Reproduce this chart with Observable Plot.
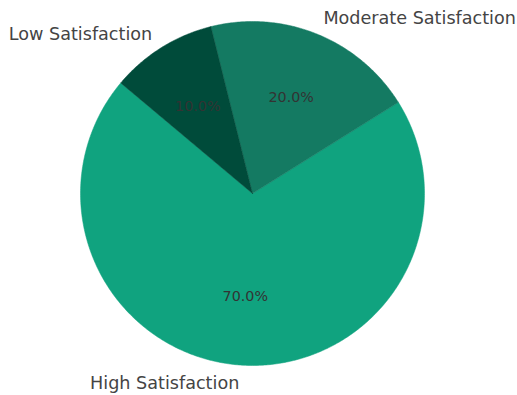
<!DOCTYPE html>
<html>
<head>
<meta charset="utf-8">
<script src="https://cdn.jsdelivr.net/npm/d3@7"></script>
<script src="https://cdn.jsdelivr.net/npm/@observablehq/plot@0.6"></script>
<style>
  html, body { margin: 0; padding: 0; background: #fff; }
  #chart svg { display: block; }
</style>
</head>
<body>
<div id="chart"></div>
<script>
// Data
const categories = ["High Satisfaction", "Moderate Satisfaction", "Low Satisfaction"];
const shares = [70, 20, 10];
const colors = ["#10a37f", "#147a62", "#004b3a"];
const pctLabels = ["70.0%", "20.0%", "10.0%"];

const startDeg = 140; // matplotlib-style start angle, counter-clockwise
const total = d3.sum(shares);

const slicePts = [];
const pctPts = [];
const labelPts = [];
let a0 = startDeg * Math.PI / 180;
categories.forEach((c, i) => {
  const span = shares[i] / total * 2 * Math.PI;
  const a1 = a0 + span;
  slicePts.push({cat: c, x: 0, y: 0});
  const n = Math.max(2, Math.ceil(span / 0.01));
  for (let k = 0; k <= n; k++) {
    const a = a0 + span * k / n;
    slicePts.push({cat: c, x: Math.cos(a), y: Math.sin(a)});
  }
  slicePts.push({cat: c, x: 0, y: 0});
  const m = (a0 + a1) / 2;
  pctPts.push({text: pctLabels[i], x: 0.6 * Math.cos(m), y: 0.6 * Math.sin(m)});
  const lx = 1.1 * Math.cos(m), ly = 1.1 * Math.sin(m);
  labelPts.push({text: c, x: lx, y: ly, anchor: lx < 0 ? "end" : "start"});
  a0 = a1;
});

const cx = 252, cy = 193, R = 172;

const chart = Plot.plot({
  width: 517,
  height: 395,
  margin: 0,
  style: {background: "#fff", fontFamily: "DejaVu Sans, sans-serif"},
  x: {domain: [-1, 1], range: [cx - R, cx + R], axis: null},
  y: {domain: [-1, 1], range: [cy + R, cy - R], axis: null},
  color: {domain: categories, range: colors},
  marks: [
    Plot.line(slicePts, {x: "x", y: "y", z: "cat", fill: "cat", stroke: "cat", strokeWidth: 0.5, curve: "linear"}),
    Plot.text(pctPts, {x: "x", y: "y", text: "text", fill: "#333333", fontSize: 14.3}),
    Plot.text(labelPts.filter(d => d.anchor === "end"), {x: "x", y: "y", dy: 1, text: "text", fill: "#444444", fontSize: 17.6, textAnchor: "end"}),
    Plot.text(labelPts.filter(d => d.anchor === "start"), {x: "x", y: "y", text: "text", fill: "#444444", fontSize: 17.6, textAnchor: "start"})
  ]
});
document.getElementById("chart").appendChild(chart);
</script>
</body>
</html>
